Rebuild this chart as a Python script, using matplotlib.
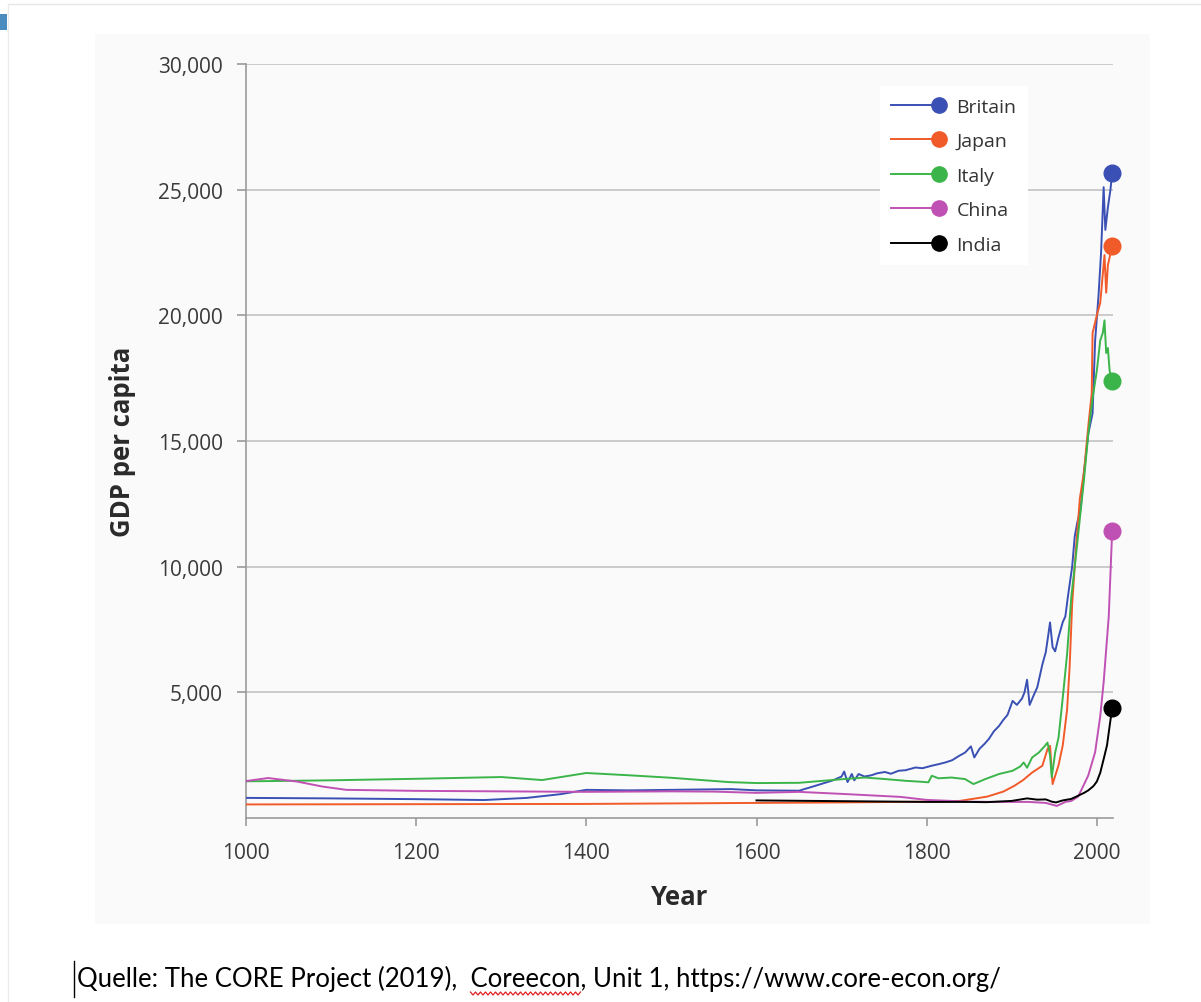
import numpy as np
import matplotlib
matplotlib.use("Agg")
import matplotlib.pyplot as plt
from matplotlib.lines import Line2D
from matplotlib.legend_handler import HandlerLine2D
from matplotlib.patches import Rectangle
from matplotlib.ticker import FuncFormatter

plt.rcParams['font.family'] = ['Open Sans', 'DejaVu Sans']

# GDP per capita (Unit 1)
countries = ['Britain', 'Japan', 'Italy', 'China', 'India']
colors = ['#3a50b4', '#f15a29', '#3bb54a', '#c051b4', '#000000']

britain_years = [1000, 1100, 1200, 1280, 1330, 1370, 1400, 1450, 1500, 1570,
                 1600, 1650, 1670, 1690, 1700, 1703, 1707, 1712, 1715, 1720,
                 1727, 1735, 1742, 1751, 1758, 1767, 1775, 1787, 1795, 1806,
                 1815, 1822, 1830, 1838, 1845, 1852, 1856, 1862, 1868, 1873,
                 1879, 1885, 1890, 1895, 1901, 1906, 1912, 1915, 1918, 1921,
                 1926, 1930, 1936, 1940, 1943, 1945, 1948, 1951, 1955, 1960,
                 1963, 1966, 1971, 1974, 1977, 1981, 1985, 1990, 1995, 1998,
                 2002, 2005, 2008, 2010, 2013, 2016, 2018]
britain_gdp = [800, 780, 750, 715, 800, 950, 1120, 1100, 1120, 1150,
               1100, 1085, 1290, 1500, 1650, 1850, 1430, 1750, 1500, 1750,
               1650, 1700, 1780, 1830, 1760, 1880, 1900, 2010, 1980, 2080,
               2150, 2210, 2300, 2470, 2600, 2850, 2410, 2750, 2950, 3140,
               3450, 3660, 3900, 4100, 4660, 4500, 4750, 5000, 5500, 4500,
               4900, 5200, 6110, 6600, 7300, 7780, 6800, 6630, 7200, 7800,
               8020, 8810, 10000, 11200, 11750, 12300, 13800, 15300, 16100, 19000,
               20800, 22500, 25100, 23400, 24300, 25000, 25650]

japan_years = [1000, 1200, 1400, 1600, 1700, 1800, 1839, 1871, 1890, 1903,
               1913, 1924, 1936, 1942, 1945, 1948, 1955, 1960, 1965, 1968,
               1971, 1975, 1980, 1985, 1990, 1994, 1995, 2000, 2004, 2009,
               2011, 2013, 2018]
japan_gdp = [540, 550, 560, 600, 620, 650, 680, 850, 1050, 1280,
             1500, 1810, 2080, 2740, 2870, 1350, 2100, 2900, 4300, 6000,
             8500, 10500, 12700, 13800, 15600, 16900, 19300, 20000, 20500, 22400,
             20900, 22000, 22750]

italy_years = [1000, 1030, 1100, 1200, 1300, 1348, 1400, 1450, 1500, 1567,
               1600, 1650, 1703, 1727, 1751, 1775, 1790, 1802, 1806, 1814,
               1829, 1845, 1855, 1862, 1869, 1885, 1901, 1910, 1914, 1918,
               1924, 1932, 1939, 1942, 1945, 1947, 1951, 1955, 1960, 1965,
               1970, 1975, 1980, 1985, 1990, 1995, 2000, 2004, 2007, 2009,
               2011, 2013, 2015, 2018]
italy_gdp = [1460, 1470, 1500, 1560, 1630, 1510, 1790, 1700, 1600, 1430,
             1390, 1400, 1550, 1610, 1550, 1480, 1450, 1420, 1680, 1580,
             1610, 1550, 1350, 1450, 1550, 1750, 1880, 2050, 2210, 2000,
             2410, 2610, 2870, 3000, 2500, 1620, 2600, 3200, 4800, 6500,
             8800, 10300, 11900, 13500, 15300, 16700, 17800, 19000, 19300, 19800,
             18500, 18700, 17800, 17400]

china_years = [1000, 1026, 1060, 1090, 1118, 1200, 1300, 1400, 1500, 1550,
               1600, 1650, 1706, 1769, 1800, 1850, 1878, 1920, 1940, 1953,
               1963, 1970, 1978, 1984, 1990, 1998, 2004, 2008, 2014, 2018]
china_gdp = [1470, 1590, 1450, 1250, 1120, 1080, 1060, 1040, 1060, 1050,
             1000, 1040, 950, 840, 720, 650, 640, 640, 600, 480,
             640, 680, 850, 1270, 1700, 2620, 4050, 5400, 8020, 11400]

india_years = [1600, 1700, 1800, 1850, 1870, 1900, 1918, 1930, 1940, 1947,
               1952, 1960, 1970, 1977, 1985, 1990, 1996, 2000, 2004, 2008,
               2012, 2015, 2018]
india_gdp = [700, 670, 640, 640, 630, 680, 780, 730, 740, 650,
             620, 700, 760, 870, 1000, 1100, 1270, 1450, 1800, 2340,
             2900, 3650, 4370]

series_years = [britain_years, japan_years, italy_years, china_years, india_years]
series_gdp = [britain_gdp, japan_gdp, italy_gdp, china_gdp, india_gdp]

x_ticks = [1000, 1200, 1400, 1600, 1800, 2000]
y_ticks = [5000, 10000, 15000, 20000, 25000, 30000]

caption = 'Quelle: The CORE Project (2019),  Coreecon, Unit 1, https://www.core-econ.org/'
W, H = 1201, 1003


class EndDotHandler(HandlerLine2D):
    # legend entry: line with the dot at its right end
    def create_artists(self, legend, orig_handle, xdescent, ydescent,
                       width, height, fontsize, trans):
        y = (height - ydescent) / 2
        line = Line2D([-xdescent, -xdescent + width], [y, y])
        self.update_prop(line, orig_handle, legend)
        line.set_marker('None')
        dot = Line2D([-xdescent + width], [y])
        self.update_prop(dot, orig_handle, legend)
        dot.set_linestyle('None')
        line.set_transform(trans)
        dot.set_transform(trans)
        return [line, dot]


fig = plt.figure(figsize=(W / 100, H / 100), dpi=100)
fig.patch.set_facecolor('white')

# light panel behind the chart, screenshot frame bits
fig.patches.append(Rectangle((95 / W, 1 - 925 / H), (1150 - 95) / W, (925 - 35) / H,
                             transform=fig.transFigure, fc='#fafafa', ec='none', zorder=-2))
fig.patches.append(Rectangle((0, 1 - 31 / H), 7 / W, 16 / H,
                             transform=fig.transFigure, fc='#4a8cc0', ec='none', zorder=-1))
fig.lines.append(Line2D([8 / W, 1], [1 - 5 / H, 1 - 5 / H], transform=fig.transFigure,
                        color='#e6e6e6', lw=1, zorder=-1))
fig.lines.append(Line2D([7.5 / W, 7.5 / W], [0, 1 - 5 / H], transform=fig.transFigure,
                        color='#ececec', lw=1, zorder=-1))

ax = fig.add_axes([246 / W, (H - 819) / H, 867 / W, 754 / H])
ax.set_facecolor('none')

for name, yrs, vals, c in zip(countries, series_years, series_gdp, colors):
    ax.plot(yrs, vals, color=c, lw=1.4, zorder=3)
    ax.plot(yrs[-1], vals[-1], 'o', color=c, ms=12, zorder=4, clip_on=False)

ax.set_xlim(1000, 2019)
ax.set_ylim(0, 30000)
ax.set_xticks(x_ticks)
ax.set_yticks(y_ticks)
ax.yaxis.set_major_formatter(FuncFormatter(lambda v, p: f'{int(v):,}'))
ax.grid(axis='y', color='#c6c6c6', lw=1.3, zorder=1)
ax.set_axisbelow(True)

for side in ['top', 'right']:
    ax.spines[side].set_visible(False)
for side in ['left', 'bottom']:
    ax.spines[side].set_color('#9a9a9a')
    ax.spines[side].set_linewidth(1.2)

ax.tick_params(axis='x', length=6, width=1.2, color='#9a9a9a', pad=11,
               labelsize=15, labelcolor='#3a3a3a')
ax.tick_params(axis='y', length=6.5, width=1.2, color='#9a9a9a', pad=10,
               labelsize=15, labelcolor='#3a3a3a')

ax.set_xlabel('Year', fontsize=18.5, fontweight='bold', color='#2a2a2a')
ax.set_ylabel('GDP per capita', fontsize=18.5, fontweight='bold', color='#2a2a2a')
ax.xaxis.set_label_coords(0.5, -0.086)
ax.yaxis.set_label_coords(-0.127, 0.5)

handles = [Line2D([], [], color=c, lw=1.4, marker='o', ms=11) for c in colors]
leg = ax.legend(handles, countries, loc='upper left', bbox_to_anchor=(0.731, 0.971),
                borderaxespad=0, frameon=True, fancybox=False, framealpha=1,
                facecolor='white', edgecolor='none', fontsize=14,
                handlelength=2.47, handletextpad=0.88, labelspacing=0.85,
                borderpad=0.6, handler_map={Line2D: EndDotHandler()})
for t in leg.get_texts():
    t.set_color('#333333')
leg.set_zorder(2)

# source line under the chart, fitted to the width of the original
fig.canvas.draw()
renderer = fig.canvas.get_renderer()
cap_x, cap_base = 77, 987
probe = fig.text(0, 0, caption, fontsize=18, family=['Lato', 'DejaVu Sans'])
w_probe = probe.get_window_extent(renderer).width
probe.remove()
cap_size = 18 * 922 / w_probe
fig.text(cap_x / W, 1 - cap_base / H, caption, fontsize=cap_size,
         family=['Lato', 'DejaVu Sans'], color='black', va='baseline')

# red spell-check squiggle under "Coreecon"
head = caption[:caption.index('Coreecon') + len('Coreecon')]
t_head = fig.text(0, 0, head, fontsize=cap_size, family=['Lato', 'DejaVu Sans'])
t_word = fig.text(0, 0, 'Coreecon', fontsize=cap_size, family=['Lato', 'DejaVu Sans'])
end_px = cap_x + t_head.get_window_extent(renderer).width
start_px = end_px - t_word.get_window_extent(renderer).width
t_head.remove()
t_word.remove()
zx = np.arange(start_px, end_px + 0.1, 2.5)
zy = np.where(np.arange(len(zx)) % 2 == 0, cap_base + 6, cap_base + 9)
fig.lines.append(Line2D(zx / W, 1 - zy / H, transform=fig.transFigure,
                        color='#e02020', lw=0.9))

# text cursor
fig.lines.append(Line2D([74 / W, 74 / W], [1 - 962 / H, 1 - 998 / H],
                        transform=fig.transFigure, color='black', lw=1))

fig.savefig('out.png', dpi=100)
